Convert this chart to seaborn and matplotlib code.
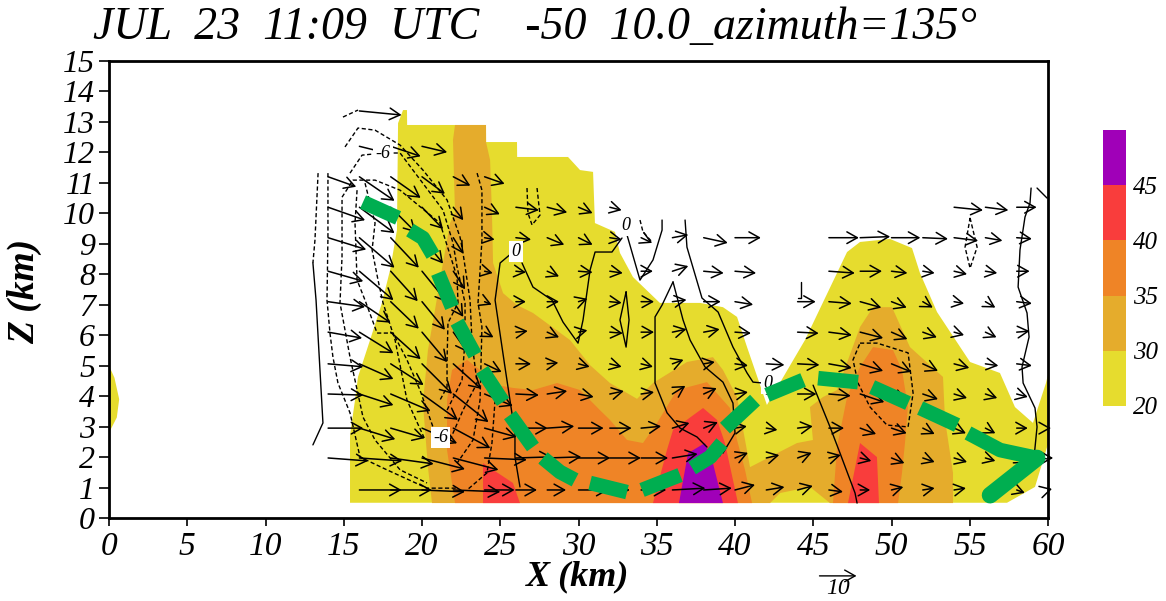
# %%
import matplotlib
matplotlib.use("Agg")
import matplotlib.pyplot as plt
from matplotlib.colors import ListedColormap
import seaborn as sns
import numpy as np

# reflectivity bands, outlines in km
yellow_x = [15.4, 15.4, 15.72, 15.91, 16.68, 17.44, 17.96, 18.4, 18.47, 18.79, 19.04, 19.05, 24.09, 24.1, 26.07, 26.08,
            29.33, 30.1, 30.93, 31.05, 32.33, 32.65, 33.48, 35.2, 37.76, 39.23, 40.13, 40.77, 42.04, 44.47, 47.16,
            47.99, 49.9, 51.31, 51.82, 52.91, 55.02, 56.93, 57.89, 59.04, 59.87, 60, 60, 59.94, 59.17, 57.38]
yellow_z = [0.5, 2.72, 3.87, 4.63, 5.84, 7.06, 8.14, 9.45, 12.96, 13.39, 13.39, 12.9, 12.9, 12.34, 12.34, 11.85,
            11.85, 11.42, 11.36, 9.68, 9.39, 8.7, 7.91, 7.06, 7.06, 6.92, 6.6, 5.61, 3.71, 5.84, 8.73,
            9.06, 9.16, 8.86, 8.04, 6.76, 5.12, 4.76, 3.64, 3.12, 4.43, 4.7, 2.4, 2.33, 1.02, 0.5]
blob_x = [0, 0.35, 0.65, 0.5, 0]
blob_z = [5.0, 4.6, 3.9, 3.3, 2.8]
gold_x = [20.64, 20.38, 20.06, 20.38, 20.83, 21.34, 21.79, 22.11, 21.98, 22.11, 24.09, 24.09, 24.35, 24.47, 24.54, 25.18,
          26.07, 27.09, 29.46, 30.73, 32.01, 33.74, 34.76, 36.93, 38.59, 39.23, 40.13, 40.64, 40.96, 43.96, 44.98,
          44.79, 45.62, 46.52, 47.99, 48.82, 50.03, 51.18, 53.29, 53.42, 53.93, 53.93, 46.07, 44.79, 42.88, 42.24]
gold_z = [0.49, 1.67, 3.77, 5.51, 6.83, 8.37, 9.68, 10.01, 12.41, 12.9, 12.9, 12.34, 11.75, 10.01, 8.37, 7.38,
          6.99, 6.73, 5.84, 5.02, 4.43, 3.91, 4.43, 5.12, 5.28, 4.86, 3.97, 2.56, 1.67, 2.46, 2.56,
          3.64, 3.97, 4.2, 6.27, 6.92, 6.92, 5.61, 4.63, 3.22, 1.48, 0.49, 0.49, 1.02, 0.82, 0.49]
orange1_x = [22.11, 21.6, 21.6, 21.92, 22.88, 23.71, 24.79, 25.81, 27.09, 28.63, 30.1, 31.37, 32.01, 33.1, 34.12, 35.02,
             36.29, 38.21, 39.68, 40.13, 40.64, 41.09]
orange1_z = [0.49, 2.23, 3.87, 4.86, 5.19, 4.86, 4.36, 4.27, 4.2, 4.43, 4.2, 3.54, 3.22, 2.56, 2.46, 3.12,
             4.2, 4.46, 3.61, 2.56, 1.58, 0.49]
orange2_x = [46.26, 46.52, 47.16, 47.99, 48.82, 50.1, 50.67, 51.05, 50.86, 50.67, 50.42]
orange2_z = [0.49, 2.33, 3.97, 4.96, 5.61, 5.51, 4.86, 3.64, 2.46, 1.48, 0.49]
red1_x = [23.9, 25.81, 26.26, 23.9]
red1_z = [1.8, 1.15, 0.49, 0.49]
red2_x = [34.76, 35.65, 36.04, 37.96, 38.85, 39.36, 40.19]
red2_z = [0.49, 2.23, 2.89, 3.61, 3.22, 2.46, 0.49]
red3_x = [47.22, 47.99, 49.07, 49.2]
red3_z = [0.49, 2.46, 2.0, 0.49]
purple_x = [36.42, 37.0, 38.08, 38.59, 39.23]
purple_z = [0.49, 2.13, 2.46, 1.8, 0.49]

band_colors = ["#e6dc2e", "#e5ac2c", "#ef8426", "#f93d3c", "#a000b8"]
cbar_levels = [4, 3, 2, 1, 0]
cbar_labels = ["45", "40", "35", "30", "20"]

# wind rows: tail height (km), tail x (km), u and w (m/s)
x_all = list(range(14, 60, 2))
x_all60 = x_all + [60]
x_gap40 = list(range(14, 42, 2)) + list(range(44, 60, 2))
x_gap46 = list(range(14, 42, 2)) + list(range(46, 60, 2))

r1_z, r1_x = 0.92, list(range(16, 62, 2))
r1_u = [11.4, 11.1, 11.6, 12.7, 8.1, 5.7, 5.1, 8.1, 5.4, 6.8, 8.9, 7.6, 5.4, 4.9, 4.1, 3.8, 2.7, 3.2, 3.2, 3.2, 3.5, 2.2, 1.1]
r1_w = [0, 0, -.5, -.5, 0, 0, 0, 0, 0, 0, .5, .5, 1.4, .8, 1.1, -.5, 0, .8, .5, .5, -2.2, -.8, .3]
r2_z, r2_x = 1.97, x_all60
r2_u = [10.8, 11.6, 11.6, 11.6, 12.2, 11.4, 9.7, 9.2, 8.6, 8.4, 7.3, 6.8, 4.9, 3.5, 3.5, 3.8, 3.2, 3, 3.5, 3.2, 3.5, 2.7, 2.7, 1.4]
r2_w = [-.8, -.8, -1.6, -3, -3.2, -.5, .3, .3, 0, 0, 0, 1.1, .8, 1.4, .8, 1.4, .8, -.8, -1.4, -1.1, -1.1, -.8, -1.4, 0]
r3_z, r3_x = 2.95, x_all60
r3_u = [9.5, 9.7, 9.2, 9.5, 10, 8.6, 8.6, 7.3, 6.8, 5.9, 5.4, 4.6, 3.8, 3.2, 3, 4.1, 4.1, 4.3, 4.1, 3.2, 3.2, 2.7, 3, .8]
r3_w = [0, -3, -2.7, -4.1, -5.4, -2.4, 0, .5, 0, 0, .5, 1.4, 1.6, .5, -.5, .5, 0, -1.6, -1.4, -1.6, -1.4, -1.4, 0, 0]
r4_z, r4_x = 4.07, x_all
r4_u = [9.5, 9.2, 10.8, 9.7, 9.5, 7.6, 6.2, 5.4, 4.1, 3.8, 3.5, 3.5, 3.5, 3.5, 4.1, 5.1, 5.9, 6.5, 4.1, 4.1, 3.5, 3.2, 3]
r4_w = [-.3, -3, -4.6, -7, -7.6, -3.2, -.3, .8, -.8, .8, .5, 2.2, 1.6, .5, .8, 0, -.5, -2.2, -1.6, -1.4, -1.1, -1.1, -.8]
r5_z, r5_x = 5.06, x_all
r5_u = [9.5, 9.2, 8.9, 8.1, 7.6, 4.6, 4.1, 3, 3, 3.2, 3.2, 3, 3, 3.5, 4.9, 5.9, 6.2, 6.2, 5.4, 4.1, 4.1, 3.5, 4.1]
r5_w = [-.8, -4.1, -5.7, -8.1, -6.8, -2.2, 0, .3, -.8, -.8, -.8, 1.1, .5, -.5, -.3, -.3, -1.1, -1.9, -2.2, -1.9, -1.1, -.5, -.5]
r6_z, r6_x = 6.1, x_gap40
r6_u = [9.2, 9.2, 8.1, 6.8, 3.8, 2.4, 3.2, 3.2, 2.4, 3.5, 3.5, 3.8, 4.3, 4.3, 5.7, 6.2, 6.2, 4.3, 3.8, 2.7, 3, 3.5]
r6_w = [-1.6, -5.7, -7.3, -8.1, -5.4, -1.4, .3, -1.4, .5, -.3, 0, .8, .8, -.3, -.3, -.8, -1.6, -1.9, -1.4, -.8, -1.4, .3]
r7_z, r7_x = 7.1, x_gap40
r7_u = [10, 8.4, 7.6, 6.2, 2.7, 1.9, 2.7, 3.2, 2.4, 3.2, 3.5, 3.8, 4.6, 4.9, 4.9, 6.2, 5.7, 4.1, 2.7, 2.7, 2.7, 4.1]
r7_w = [-1.4, -5.7, -7.3, -7.6, -4.1, -.8, 0, 0, .8, -.3, 0, .5, 0, -.8, 0, -.5, -1.6, -1.6, -1.6, -.5, -1.6, -.5]
r8_z, r8_x = 8.1, x_gap46
r8_u = [9.5, 9.2, 7.3, 6.8, 3.2, 2.2, 2.7, 3.2, 3.8, 3.5, 3.2, 4.3, 5.4, 5.7, 7, 5.9, 4.3, 3.2, 3.5, 3.2, 3.5]
r8_w = [-2.7, -7.8, -8.1, -8.4, -4.9, -.5, -.3, -1.4, -.3, -.5, 0, 1.4, -.5, -.5, -.5, 0, -.5, -.5, -.8, -.5, 0]
r9_z, r9_x = 9.2, x_gap46
r9_u = [10.3, 9.5, 7.6, 5.7, 2.7, 2.7, 4.1, 4.6, 3.8, 3.2, 3, 4.3, 6.5, 7, 8.1, 8.1, 7.8, 6.8, 6.5, 4.6, 4.1]
r9_w = [-3.2, -8.1, -8.1, -7, -4.3, -.5, -.5, -1.9, -1.9, -.5, -1.4, .8, -1.4, 0, 0, .3, 0, -.3, -.8, -.8, -.3]
r10_z, r10_x = 10.2, list(range(14, 34, 2)) + [54, 56, 58]
r10_u = [10, 9.5, 6.8, 5.7, 2.7, 4.1, 6.2, 5.4, 3.8, 3.2, 7.8, 6.2, 5.4]
r10_w = [-3.5, -7, -6.8, -5.9, -3.5, -1.9, -.8, -1.4, -1.6, -.8, -.8, -.8, 0]
r11_z, r11_x = 11.2, [14, 16, 18, 20, 22, 24]
r11_u = [7.6, 9.5, 8.1, 6.2, 4.6, 5.4]
r11_w = [-2.7, -6.5, -5.7, -4.6, -2.4, -1.9]
r12_z, r12_x = 12.2, [16, 18, 20]
r12_u = [8.9, 8.1, 6.8]
r12_w = [-2.2, -2.7, -1.6]
r13_z, r13_x = 13.36, [16]
r13_u = [11.4]
r13_w = [-1.1]

# contours, solid
solid_lines = [
  ([13.03, 13.23, 13.67, 13.03], [8.37, 7.15, 3.12, 2.4]),
  ([25.75, 24.99, 24.67, 25.3, 25.62, 25.94, 25.94, 26.26], [8.7, 8.37, 7.15, 4.96, 3.87, 2.79, 2.0, 1.02]),
  ([26.39, 27.09, 28.31, 29.01, 29.97, 30.29, 30.74, 31.06, 32.14, 32.78], [8.37, 7.58, 7.15, 6.43, 5.74, 6.5, 8.14, 8.73, 8.73, 9.19]),
  ([33.1, 33.93, 34.76, 35.34, 35.34], [9.29, 7.81, 8.47, 9.45, 9.78]),
  ([36.04, 35.34, 34.89, 34.89, 35.66, 36.49, 37.57, 38.21], [7.75, 6.99, 6.6, 4.43, 3.45, 2.95, 2.66, 2.33]),
  ([36.04, 36.68, 37.13, 38.08, 39.23, 39.87, 40.0, 39.23], [7.75, 6.5, 5.84, 4.96, 4.46, 3.77, 2.79, 2.13]),
  ([36.81, 36.93, 37.89, 38.92, 39.87, 40.77, 41.15, 41.79], [9.78, 8.89, 7.22, 6.76, 5.61, 4.76, 4.46, 4.43]),
  ([44.99, 46.07, 46.71, 47.67, 47.8], [4.36, 2.99, 2.13, 0.82, 0.49]),
  ([33.04, 32.65, 33.04, 33.23, 33.04], [7.42, 6.5, 5.61, 6.5, 7.42]),
  ([58.92, 58.85, 58.53, 58.21, 58.09, 58.66, 58.79, 58.34, 58.41, 59.17, 59.3, 59.11, 59.94],
   [10.83, 10.34, 9.88, 8.8, 7.58, 6.73, 5.94, 4.96, 4.43, 3.61, 2.99, 2.0, 1.94]),
  ([59.3, 59.94], [10.83, 10.5]),
  ([44.22, 44.22, 44.03], [7.75, 7.22, 7.22]),
]
# contours, dashed
dashed_lines = [
  ([13.36, 13.16, 13.03], [11.32, 9.12, 8.37]),
  ([13.99, 13.99, 13.93, 14.12, 14.31, 14.63, 15.4, 16.04, 17.76, 20.32, 22.24], [11.32, 9.22, 7.15, 6.07, 5.28, 4.43, 3.45, 2.0, 1.58, 0.98, 0.98]),
  ([14.89, 14.89, 14.76, 15.4, 16.23, 17.0, 18.6, 20.32], [10.44, 8.57, 7.06, 5.28, 3.31, 2.56, 1.58, 1.15]),
  ([15.08, 15.91, 17.0, 18.6, 20.06, 21.6, 22.43, 22.62, 23.07, 23.2, 23.52, 22.62, 21.79],
   [12.18, 12.8, 12.73, 12.24, 11.42, 10.44, 9.22, 8.7, 7.15, 5.74, 4.43, 3.54, 2.56]),
  ([15.4, 16.17, 17.51, 18.6, 21.34, 21.98, 22.24, 22.75, 22.75, 22.56, 21.6], [11.32, 11.91, 11.98, 11.98, 10.11, 9.03, 8.24, 7.06, 5.84, 4.53, 3.54]),
  ([14.89, 15.59, 17.0, 18.6, 21.15, 22.24, 22.3, 21.66, 21.6, 21.6, 21.15], [10.53, 11.09, 11.09, 10.76, 9.68, 7.91, 7.06, 6.4, 5.19, 4.3, 3.87]),
  ([15.85, 15.72, 15.85, 16.36, 17.13, 18.15, 19.04, 19.87, 20.7], [10.76, 9.68, 7.81, 7.15, 6.07, 6.07, 5.19, 4.2, 2.99]),
  ([16.36, 17.0, 16.81, 17.19, 17.51, 18.28, 19.04, 20.2], [10.99, 9.68, 8.8, 7.81, 7.06, 5.84, 3.87, 2.56]),
  ([14.95, 15.91], [13.16, 13.39]),
  ([23.52, 23.83, 23.83, 23.58, 23.83, 23.71, 23.26, 22.24], [11.32, 10.76, 9.12, 7.06, 6.27, 3.87, 2.56, 1.8]),
  ([24.67, 24.47, 24.15, 22.88], [3.87, 2.46, 1.48, 0.92]),
  ([47.99, 49.08, 51.06, 51.38, 51.06, 49.71, 48.63, 47.86, 47.54, 47.99], [5.74, 5.74, 5.42, 4.1, 2.99, 3.05, 3.64, 4.43, 5.19, 5.74]),
  ([55.02, 55.47, 55.02, 54.7, 55.02], [9.85, 8.89, 8.2, 8.89, 9.85]),
  ([26.71, 26.77, 27.03, 27.54, 27.35], [10.83, 10.01, 9.62, 9.94, 10.83]),
  ([33.93, 34.12, 34.7], [9.78, 9.39, 9.06]),
]

# hand drawn thick green dashes
green_dashes = [
  ([16.23, 18.47], [10.37, 9.85]),
  ([19.23, 20.06, 20.7], [9.45, 9.19, 8.63]),
  ([21.02, 21.92], [8.04, 6.92]),
  ([22.24, 23.39], [6.43, 5.35]),
  ([23.84, 25.18], [4.86, 3.81]),
  ([25.62, 27.09], [3.38, 2.33]),
  ([27.73, 28.82, 29.78], [1.97, 1.51, 1.25]),
  ([30.74, 33.1], [1.15, 0.85]),
  ([34.06, 36.49], [0.92, 1.41]),
  ([37.26, 38.41, 39.17], [1.64, 2.0, 2.46]),
  ([39.36, 41.28], [2.95, 3.87]),
  ([42.05, 44.35], [4.04, 4.53]),
  ([45.31, 47.86], [4.59, 4.46]),
  ([48.76, 51.06], [4.3, 3.77]),
  ([51.83, 54.19], [3.61, 3.05]),
  ([54.89, 56.94, 59.3], [2.79, 2.23, 1.97]),
]
green_head_x = [59.3, 56.3]
green_head_z = [1.97, 0.75]

contour_labels = [("-6", 17.5, 11.98), ("0", 26.0, 8.75), ("0", 33.0, 9.6), ("0", 42.1, 4.43), ("-6", 21.2, 2.65)]

title_text = "JUL  23  11:09  UTC    -50  10.0_azimuth=135\u00b0"
x_ticks = list(range(0, 65, 5))
z_ticks = list(range(0, 16))

W, H = 1166, 601
sns.set_style("ticks")
plt.rcParams['font.family'] = ['Liberation Serif', 'DejaVu Serif']
plt.rcParams['text.color'] = 'black'
plt.rcParams['xtick.color'] = 'black'
plt.rcParams['ytick.color'] = 'black'
plt.rcParams['xtick.labelcolor'] = 'black'
plt.rcParams['ytick.labelcolor'] = 'black'

fig = plt.figure(figsize=(W / 100, H / 100), dpi=100)
ax = fig.add_axes([109 / W, 1 - 518 / H, 939 / W, 457 / H])

for bx, bz, col in [(yellow_x, yellow_z, band_colors[0]), (blob_x, blob_z, band_colors[0]),
                    (gold_x, gold_z, band_colors[1]),
                    (orange1_x, orange1_z, band_colors[2]), (orange2_x, orange2_z, band_colors[2]),
                    (red1_x, red1_z, band_colors[3]), (red2_x, red2_z, band_colors[3]), (red3_x, red3_z, band_colors[3]),
                    (purple_x, purple_z, band_colors[4])]:
  ax.fill(bx, bz, color=col, lw=0, zorder=1, clip_on=False)

for lx, lz in solid_lines:
  sns.lineplot(x=lx, y=lz, sort=False, estimator=None, errorbar=None, color="black", linewidth=1.0, ax=ax, zorder=2)
for lx, lz in dashed_lines:
  sns.lineplot(x=lx, y=lz, sort=False, estimator=None, errorbar=None, color="black", linewidth=1.0,
               linestyle=(0, (3, 1.8)), ax=ax, zorder=2)

# open headed arrows, 1 m/s is 3.7 px
pt_per_ms = 3.7 * 0.72
def draw_row(z, xs, us, ws):
  for x, u, w in zip(xs, us, ws):
    ax.annotate("", xy=(x, z), xytext=(u * pt_per_ms, w * pt_per_ms), textcoords="offset points", zorder=3,
                annotation_clip=False,
                arrowprops=dict(arrowstyle="<-,head_length=0.75,head_width=0.42", color="black", lw=1.1,
                                shrinkA=0, shrinkB=0, mutation_scale=10))

draw_row(r1_z, r1_x, r1_u, r1_w)
draw_row(r2_z, r2_x, r2_u, r2_w)
draw_row(r3_z, r3_x, r3_u, r3_w)
draw_row(r4_z, r4_x, r4_u, r4_w)
draw_row(r5_z, r5_x, r5_u, r5_w)
draw_row(r6_z, r6_x, r6_u, r6_w)
draw_row(r7_z, r7_x, r7_u, r7_w)
draw_row(r8_z, r8_x, r8_u, r8_w)
draw_row(r9_z, r9_x, r9_u, r9_w)
draw_row(r10_z, r10_x, r10_u, r10_w)
draw_row(r11_z, r11_x, r11_u, r11_w)
draw_row(r12_z, r12_x, r12_u, r12_w)
draw_row(r13_z, r13_x, r13_u, r13_w)

for gx, gz in green_dashes:
  l = sns.lineplot(x=gx, y=gz, sort=False, estimator=None, errorbar=None, color="#00ae50", linewidth=10.5, ax=ax, zorder=4)
  l.lines[-1].set_solid_capstyle("butt")
  l.lines[-1].set_clip_on(False)
l = sns.lineplot(x=green_head_x, y=green_head_z, sort=False, estimator=None, errorbar=None, color="#00ae50", linewidth=12, ax=ax, zorder=4)
l.lines[-1].set_solid_capstyle("round")

for txt, tx, tz in contour_labels:
  ax.text(tx, tz, txt, fontsize=13, style="italic", ha="center", va="center", zorder=3.5,
          bbox=dict(facecolor="white", edgecolor="none", pad=1.5))

ax.set_xlim(0, 60)
ax.set_ylim(0, 15)
ax.set_xlabel("")
ax.set_ylabel("")
ax.set_xticks(x_ticks)
ax.set_yticks(z_ticks)
ax.set_xticklabels([str(t) for t in x_ticks], fontsize=24, style="italic")
ax.set_yticklabels([str(t) for t in z_ticks], fontsize=23, style="italic")
ax.tick_params(axis="x", length=6, width=1.2, pad=4)
ax.tick_params(axis="y", length=7, width=1.2, pad=3)
for s in ax.spines.values():
  s.set_linewidth(2)
  s.set_color("black")
  s.set_visible(True)
  s.set_zorder(6)

fig.text(535 / W, 1 - 28 / H, title_text, fontsize=33, style="italic", ha="center", va="center")
fig.text(25 / W, 1 - 291 / H, "Z (km)", fontsize=27, style="italic", weight="bold", rotation=90, ha="center", va="center")
fig.text(578 / W, 1 - 577 / H, "X (km)", fontsize=26, style="italic", weight="bold", ha="center", va="center")

# 10 m/s reference arrow
ax.annotate("", xy=(45.4, -1.9), xytext=(10 * pt_per_ms, 0), textcoords="offset points", annotation_clip=False,
            arrowprops=dict(arrowstyle="<-,head_length=0.75,head_width=0.42", color="black", lw=1.0, shrinkA=0, shrinkB=0, mutation_scale=10))
fig.text(838 / W, 1 - 589 / H, "10", fontsize=17, style="italic", ha="center", va="center")

# colour bar
cax = fig.add_axes([1103 / W, 1 - 406 / H, 23 / W, 276 / H])
sns.heatmap(np.array(cbar_levels).reshape(-1, 1), cmap=ListedColormap(band_colors), vmin=0, vmax=4, cbar=False, ax=cax,
            xticklabels=False, yticklabels=False)
cax.yaxis.tick_right()
cax.set_yticks(range(1, 6))
cax.set_yticklabels(cbar_labels, fontsize=18, style="italic", rotation=0)
cax.tick_params(axis="y", length=0, pad=5)
for s in cax.spines.values():
  s.set_visible(False)

fig.savefig("out.png", dpi=100)
